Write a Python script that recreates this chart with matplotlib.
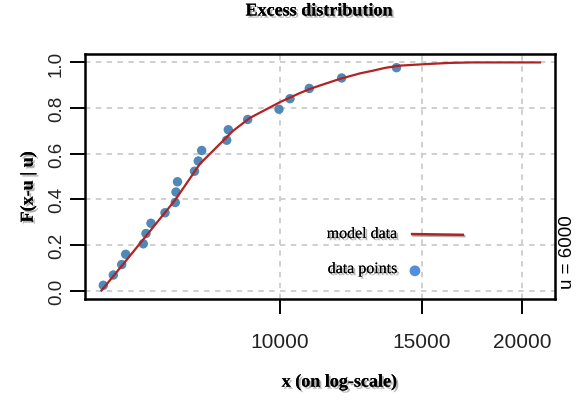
import matplotlib
matplotlib.use("Agg")
import matplotlib.pyplot as plt
import matplotlib.patheffects as pe
from matplotlib.ticker import FixedLocator, FixedFormatter, NullLocator

# ---- data ----
data_x = [6032, 6207, 6358, 6431, 6763, 6815, 6914, 7196, 7411, 7426, 7458,
          7830, 7915, 7993, 8586, 8625, 9117, 9971, 10290, 10874, 11930, 13956]
data_y = [0.023, 0.068, 0.114, 0.159, 0.205, 0.250, 0.295, 0.341, 0.386, 0.432,
          0.477, 0.523, 0.568, 0.614, 0.659, 0.705, 0.750, 0.795, 0.841, 0.886,
          0.932, 0.977]

model_x = [6000, 6420, 6895, 7405, 7955, 8742, 9177, 9444, 10000, 10589, 10896,
           11213, 11872, 12570, 13050, 13502, 14092, 15230, 16260, 17320, 21040]
model_y = [0.0, 0.126, 0.261, 0.396, 0.556, 0.700, 0.757, 0.780, 0.826, 0.866,
           0.884, 0.899, 0.928, 0.952, 0.964, 0.976, 0.986, 0.993, 0.998, 1.0, 1.0]

x_ticks = [10000, 15000, 20000]
x_tick_labels = ["10000", "15000", "20000"]
y_ticks = [0.0, 0.2, 0.4, 0.6, 0.8, 1.0]
y_tick_labels = ["0.0", "0.2", "0.4", "0.6", "0.8", "1.0"]

title = "Excess distribution"
xlabel = "x (on log-scale)"
ylabel = "F(x-u | u)"
side_text = "u = 6000"
legend_labels = ["model data", "data points"]

line_color = "#B22222"
point_color = "#4682B4"
legend_point_color = "#4F8FDC"
grid_color = "#cccccc"

W, H = 579, 402
fig = plt.figure(figsize=(W / 100, H / 100), dpi=100)
ax = fig.add_axes([85 / W, 1 - 300 / H, 470 / W, 245 / H])

shadow = [pe.withSimplePatchShadow(offset=(1.5, -1.5), shadow_rgbFace="0.45", alpha=0.55), pe.Normal()]
serif = "Liberation Serif"
sans = "Liberation Sans"

ax.set_xscale("log")
ax.set_xlim(5724, 21965)
ax.set_ylim(-0.037, 1.037)

# grid
for xv in x_ticks:
    ax.axvline(xv, color=grid_color, lw=1.3, ls=(0, (3, 3)), zorder=0)
for yv in y_ticks:
    ax.axhline(yv, color=grid_color, lw=1.3, ls=(0, (3, 3)), zorder=0)

ax.scatter(data_x, data_y, s=46, color=point_color, edgecolors="none", alpha=0.95, zorder=2)
ax.plot(model_x, model_y, color=line_color, lw=1.6, zorder=3)

# ticks
ax.xaxis.set_major_locator(FixedLocator(x_ticks))
ax.xaxis.set_major_formatter(FixedFormatter(x_tick_labels))
ax.xaxis.set_minor_locator(NullLocator())
ax.yaxis.set_major_locator(FixedLocator(y_ticks))
ax.yaxis.set_major_formatter(FixedFormatter(y_tick_labels))
ax.tick_params(axis="both", direction="out", length=10.5, width=1.4, color="black")
ax.tick_params(axis="x", pad=13, labelsize=15)
ax.tick_params(axis="y", pad=4, labelsize=13.5)
for lab in ax.get_xticklabels():
    lab.set_fontfamily(sans)
    lab.set_color("#222222")
for lab in ax.get_yticklabels():
    lab.set_fontfamily(sans)
    lab.set_rotation(90)
    lab.set_va("center")
    lab.set_color("#222222")

for sp in ax.spines.values():
    sp.set_linewidth(1.8)
    sp.set_color("black")

# titles
fig.text(319 / W, 1 - 12 / H, title, ha="center", va="center", fontsize=13,
         fontweight="bold", family=serif, path_effects=shadow)
fig.text(339 / W, 1 - 383 / H, xlabel, ha="center", va="center", fontsize=13,
         fontweight="bold", family=serif, path_effects=shadow)
fig.text(28 / W, 1 - 188 / H, ylabel, ha="center", va="center", fontsize=13,
         fontweight="bold", family=serif, rotation=90, path_effects=shadow)
fig.text(567 / W, 1 - 252 / H, side_text, ha="center", va="center", fontsize=13.5,
         family=sans, rotation=90)

# legend (manual)
ax.text(0.664, 0.265, legend_labels[0], transform=ax.transAxes, ha="right", va="center",
        fontsize=11.5, family=serif, path_effects=shadow, zorder=5)
ax.plot([0.696, 0.804], [0.265, 0.262], transform=ax.transAxes, color=line_color, lw=1.8,
        zorder=5, path_effects=[pe.SimpleLineShadow(offset=(1, -1), alpha=0.3), pe.Normal()])
ax.text(0.664, 0.122, legend_labels[1], transform=ax.transAxes, ha="right", va="center",
        fontsize=11.5, family=serif, path_effects=shadow, zorder=5)
ax.scatter([0.702], [0.115], transform=ax.transAxes, s=60, color=legend_point_color,
           edgecolors="none", zorder=5)

fig.savefig("out.png", dpi=100)
